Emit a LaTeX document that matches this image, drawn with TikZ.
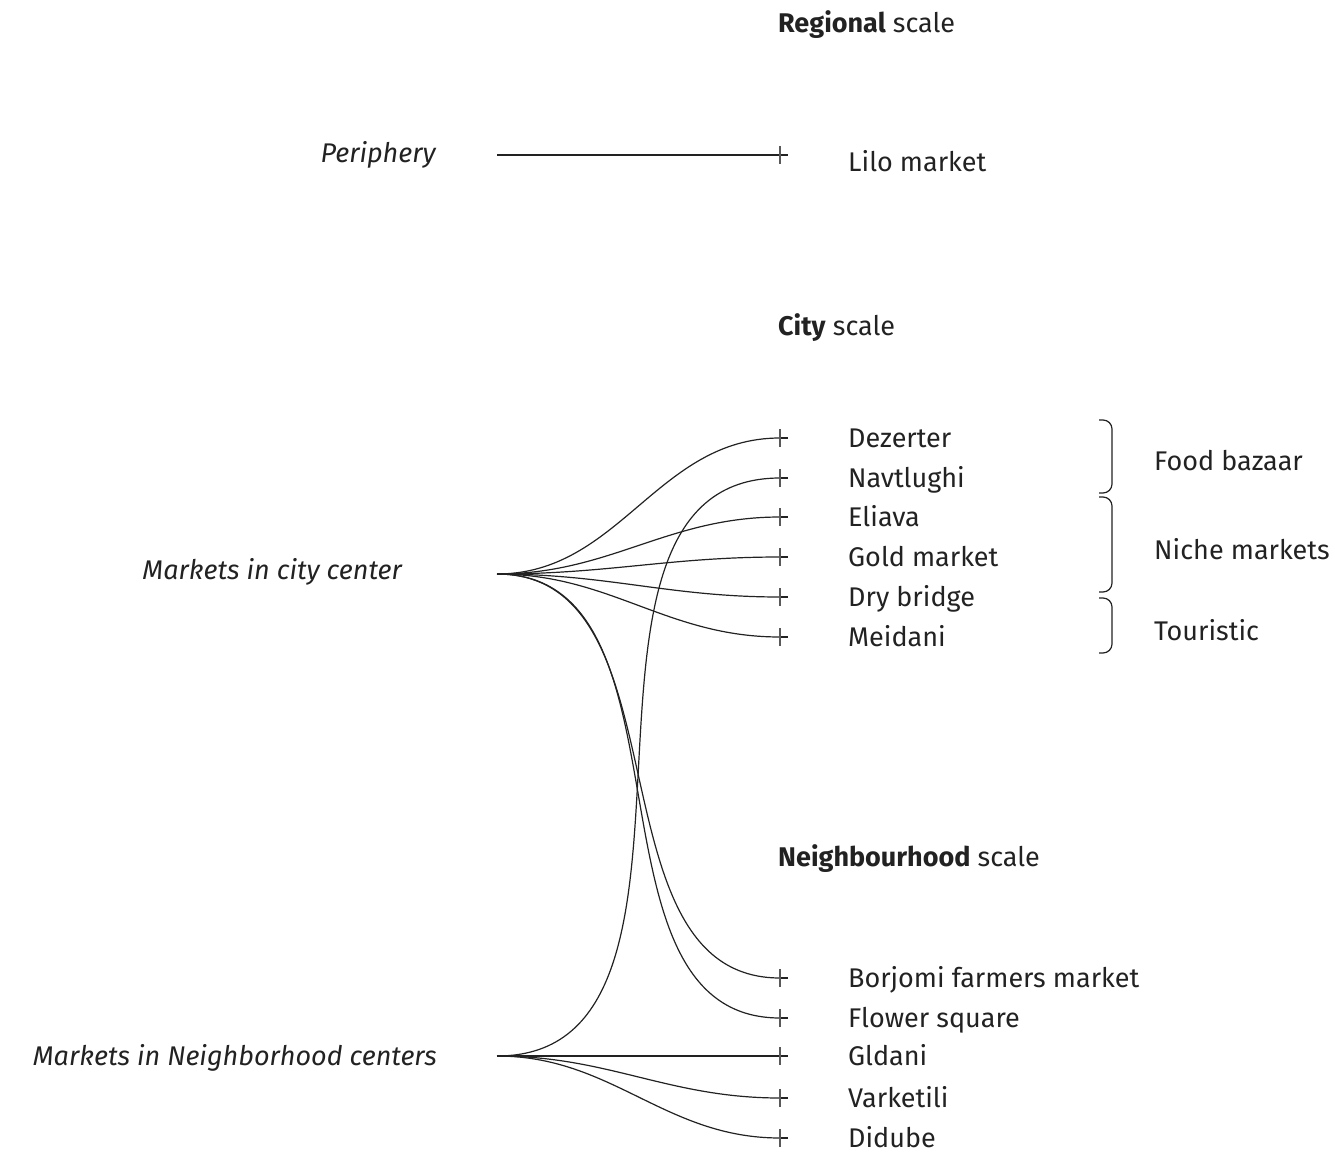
\documentclass[tikz,border=0pt]{standalone}
\usepackage{fontspec}
\setmainfont{Fira Sans}
\definecolor{ink}{HTML}{222222}
\begin{document}
\begin{tikzpicture}[x=1pt,y=-1pt,
  conn/.style={draw=ink, line width=1.2pt},
  tickmark/.style={draw=ink!75, line width=1.4pt},
  lbl/.style={anchor=base west, inner sep=0pt, text=ink, font=\fontsize{27}{32}\selectfont},
  src/.style={anchor=base east, inner sep=0pt, text=ink, font=\fontsize{27}{32}\selectfont\itshape},
  head/.style={anchor=base west, inner sep=0pt, text=ink, font=\fontsize{27}{32}\selectfont},
  bracket/.style={draw=ink, line width=1.2pt, rounded corners=9pt}]
\useasboundingbox (0,0) rectangle (1335,1155);

% sources
\coordinate (peri) at (497,155);
\coordinate (city) at (497,574);
\coordinate (nbh) at (497,1056);

% endpoints
\coordinate (lilo) at (780,155);
\coordinate (dez) at (780,438);
\coordinate (nav) at (780,478);
\coordinate (eli) at (780,517);
\coordinate (gold) at (780,557);
\coordinate (dry) at (780,597);
\coordinate (mei) at (780,637);
\coordinate (bor) at (780,978);
\coordinate (flo) at (780,1018);
\coordinate (gld) at (780,1056);
\coordinate (var) at (780,1098);
\coordinate (did) at (780,1138);

% connectors
\draw[conn] (peri) -- (lilo);
\foreach \e in {dez,eli,gold,dry,mei,bor,flo}
  \draw[conn] (city) to[out=0,in=180] (\e);
\foreach \e in {nav,gld,var,did}
  \draw[conn] (nbh) to[out=0,in=180] (\e);

% ticks
\foreach \e in {lilo,dez,nav,eli,gold,dry,mei,bor,flo,gld,var,did}{
  \draw[conn] (\e) -- ++(8,0);
  \draw[tickmark] ([yshift=9pt]\e) -- ([yshift=-9pt]\e);
}

% headings
\node[head] (hreg) at (778,33) {\textbf{Regional} scale};
\node[head] (hcity) at (778,335) {\textbf{City} scale};
\node[head] (hnbh) at (778,866) {\textbf{Neighbourhood} scale};

% source labels
\node[src] (lperi) at (436,163) {Periphery};
\node[src] (lcity) at (402,579) {Markets in city center};
\node[src] (lnbh) at (437,1065) {Markets in Neighborhood centers};

% market labels
\node[lbl] (tlilo) at (848,172) {Lilo market};
\node[lbl] (tdez) at (848,447) {Dezerter};
\node[lbl] (tnav) at (848,487) {Navtlughi};
\node[lbl] (teli) at (848,526) {Eliava};
\node[lbl] (tgold) at (848,566) {Gold market};
\node[lbl] (tdry) at (848,606) {Dry bridge};
\node[lbl] (tmei) at (848,646) {Meidani};
\node[lbl] (tbor) at (848,987) {Borjomi farmers market};
\node[lbl] (tflo) at (848,1027) {Flower square};
\node[lbl] (tgld) at (848,1065) {Gldani};
\node[lbl] (tvar) at (848,1107) {Varketili};
\node[lbl] (tdid) at (848,1147) {Didube};

% brackets
\draw[bracket] (1099,420) -- (1112,420) -- (1112,493) -- (1099,493);
\draw[bracket] (1099,497) -- (1112,497) -- (1112,592) -- (1099,592);
\draw[bracket] (1099,598) -- (1112,598) -- (1112,653) -- (1099,653);

\node[lbl] (gfood) at (1154,470) {Food bazaar};
\node[lbl] (gniche) at (1154,559) {Niche markets};
\node[lbl] (gtour) at (1154,640) {Touristic};
\end{tikzpicture}
\end{document}
